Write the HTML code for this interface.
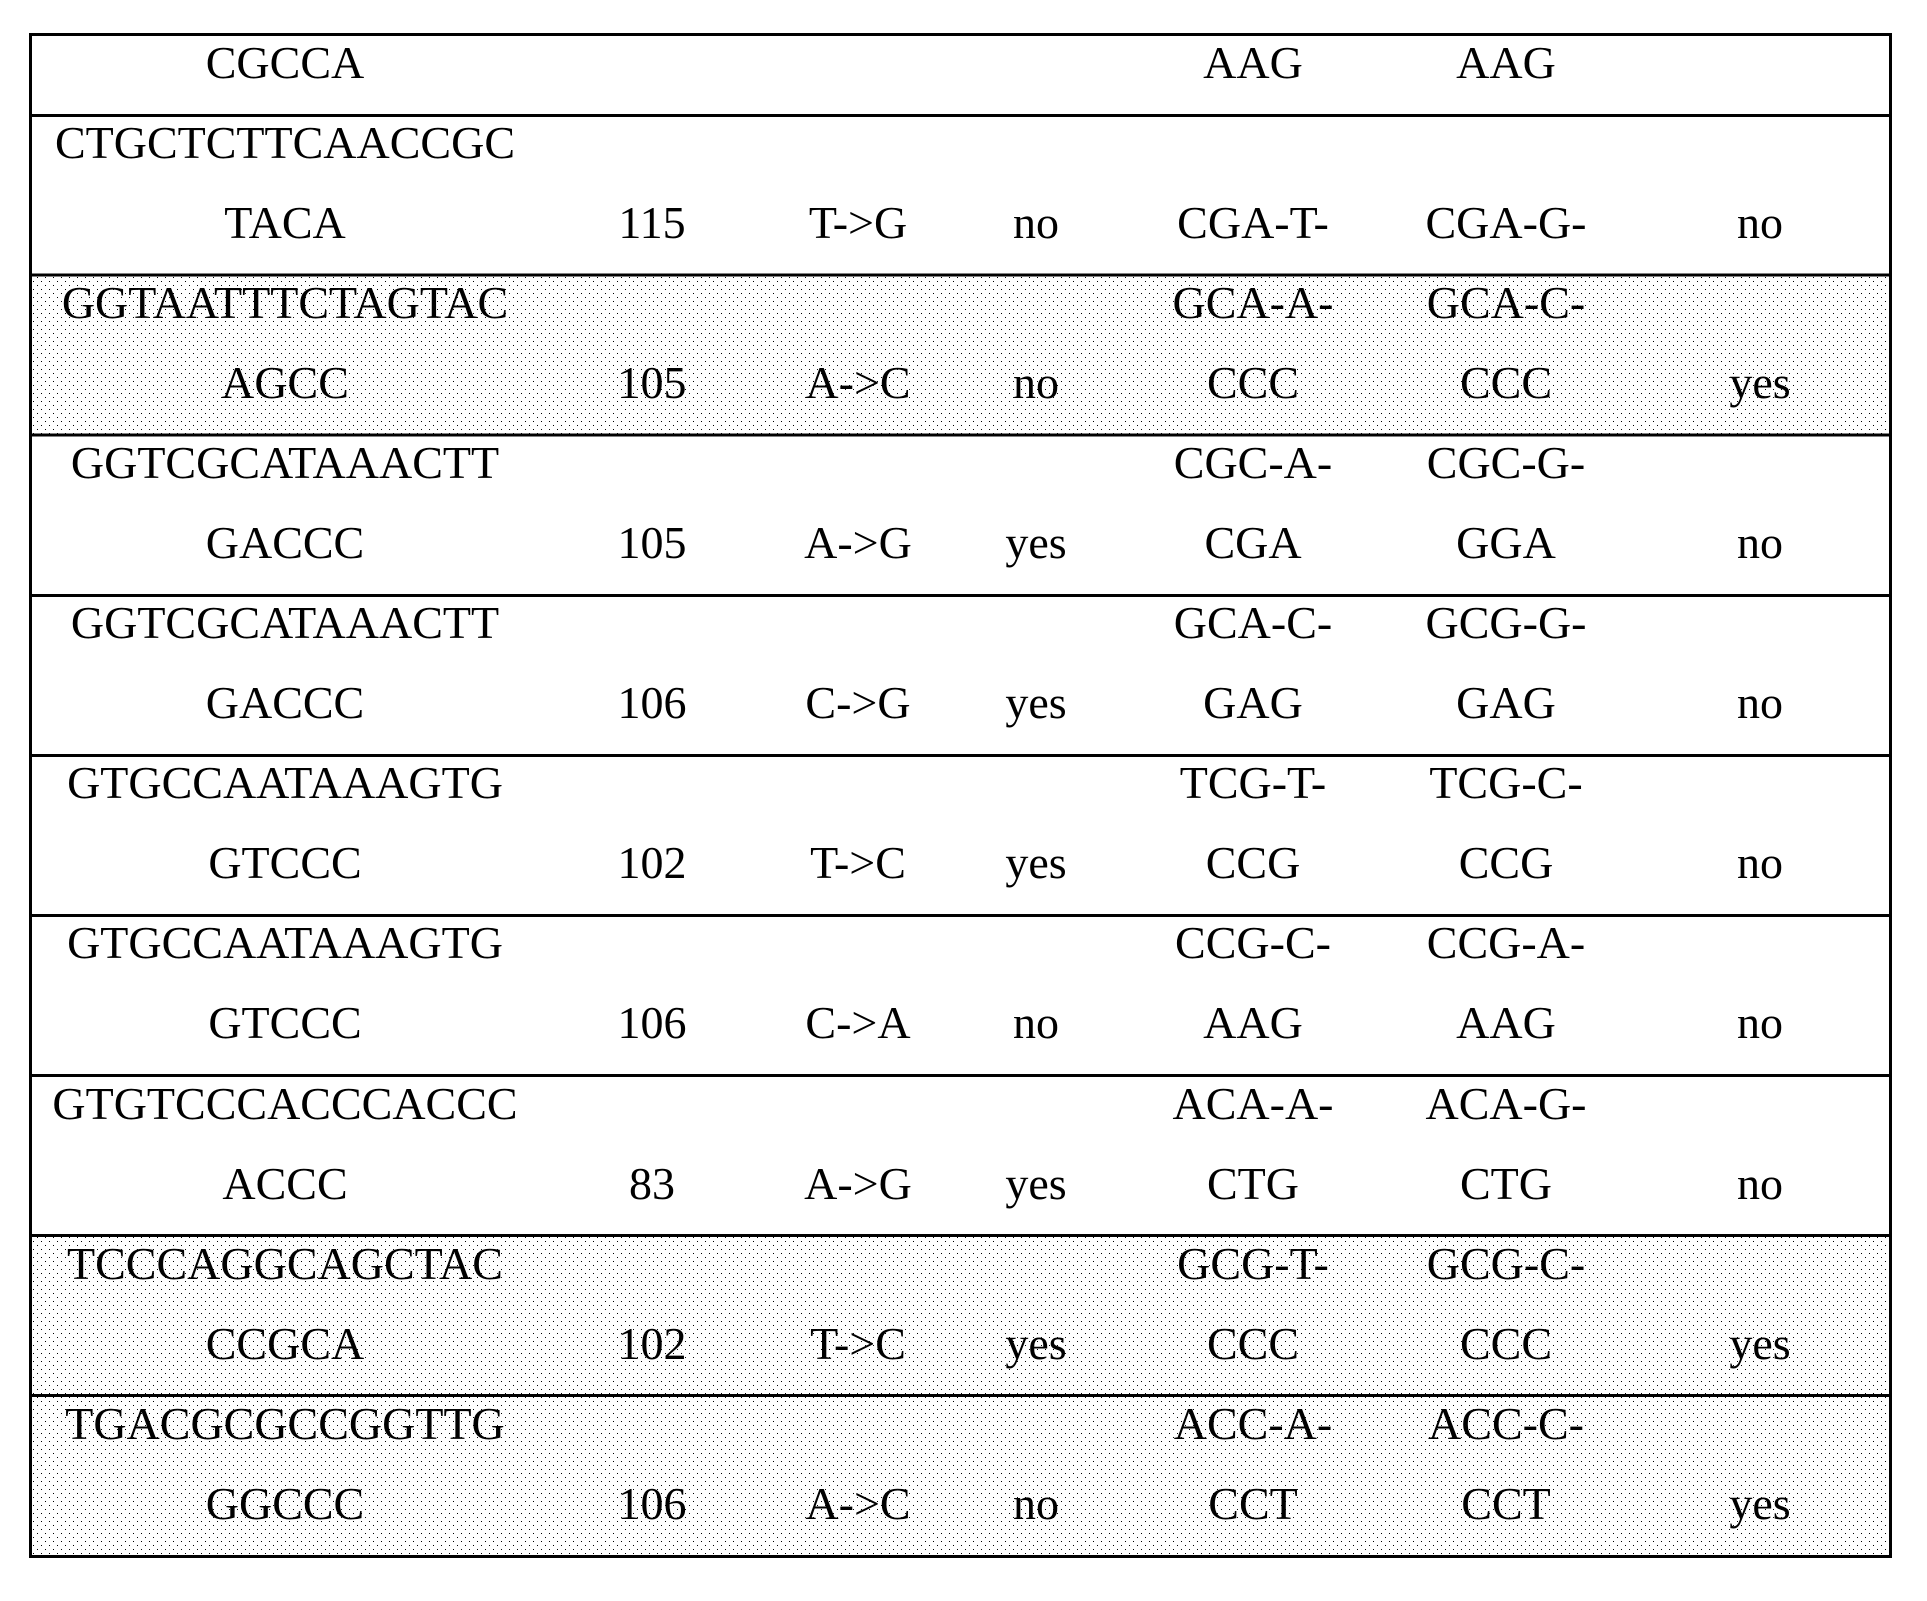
<!DOCTYPE html>
<html>
<head>
<meta charset="utf-8">
<style>
html,body{margin:0;padding:0;background:#fff;}
svg{display:block;}
text{font-family:"Liberation Serif","Times New Roman",serif;font-size:46px;fill:#000;}
</style>
</head>
<body>
<svg width="1927" height="1601" viewBox="0 0 1927 1601" xmlns="http://www.w3.org/2000/svg">
<defs>
<pattern id="dots" width="8" height="8" patternUnits="userSpaceOnUse">
<rect x="1" y="1" width="1" height="1" fill="#000"/>
<rect x="5" y="5" width="1" height="1" fill="#000"/>
</pattern>
</defs>
<rect width="1927" height="1601" fill="#fff"/>
<rect x="32" y="275" width="1858" height="160" fill="url(#dots)"/>
<rect x="32" y="1235" width="1858" height="160" fill="url(#dots)"/>
<rect x="32" y="1395" width="1858" height="161" fill="url(#dots)"/>
<rect x="30.5" y="34.5" width="1860" height="1522" fill="none" stroke="#000" stroke-width="3"/>
<g stroke="#000" stroke-width="3">
<line x1="29" x2="1892" y1="115.5" y2="115.5"/>
<line x1="29" x2="1892" y1="275" y2="275"/>
<line x1="29" x2="1892" y1="435" y2="435"/>
<line x1="29" x2="1892" y1="595.5" y2="595.5"/>
<line x1="29" x2="1892" y1="755.5" y2="755.5"/>
<line x1="29" x2="1892" y1="915.5" y2="915.5"/>
<line x1="29" x2="1892" y1="1075.5" y2="1075.5"/>
<line x1="29" x2="1892" y1="1235.5" y2="1235.5"/>
<line x1="29" x2="1892" y1="1395.5" y2="1395.5"/>
</g>
<g text-anchor="middle">
<text x="285" y="78">CGCCA</text>
<text x="1253" y="78">AAG</text>
<text x="1506" y="78">AAG</text>

<text x="285" y="158">CTGCTCTTCAACCGC</text>
<text x="285" y="238">TACA</text>
<text x="652" y="238">115</text>
<text x="858" y="238">T-&gt;G</text>
<text x="1036" y="238">no</text>
<text x="1253" y="238">CGA-T-</text>
<text x="1506" y="238">CGA-G-</text>
<text x="1760" y="238">no</text>

<text x="285" y="318">GGTAATTTCTAGTAC</text>
<text x="1253" y="318">GCA-A-</text>
<text x="1506" y="318">GCA-C-</text>
<text x="285" y="398">AGCC</text>
<text x="652" y="398">105</text>
<text x="858" y="398">A-&gt;C</text>
<text x="1036" y="398">no</text>
<text x="1253" y="398">CCC</text>
<text x="1506" y="398">CCC</text>
<text x="1760" y="398">yes</text>

<text x="285" y="478">GGTCGCATAAACTT</text>
<text x="1253" y="478">CGC-A-</text>
<text x="1506" y="478">CGC-G-</text>
<text x="285" y="558">GACCC</text>
<text x="652" y="558">105</text>
<text x="858" y="558">A-&gt;G</text>
<text x="1036" y="558">yes</text>
<text x="1253" y="558">CGA</text>
<text x="1506" y="558">GGA</text>
<text x="1760" y="558">no</text>

<text x="285" y="638">GGTCGCATAAACTT</text>
<text x="1253" y="638">GCA-C-</text>
<text x="1506" y="638">GCG-G-</text>
<text x="285" y="718">GACCC</text>
<text x="652" y="718">106</text>
<text x="858" y="718">C-&gt;G</text>
<text x="1036" y="718">yes</text>
<text x="1253" y="718">GAG</text>
<text x="1506" y="718">GAG</text>
<text x="1760" y="718">no</text>

<text x="285" y="798">GTGCCAATAAAGTG</text>
<text x="1253" y="798">TCG-T-</text>
<text x="1506" y="798">TCG-C-</text>
<text x="285" y="878">GTCCC</text>
<text x="652" y="878">102</text>
<text x="858" y="878">T-&gt;C</text>
<text x="1036" y="878">yes</text>
<text x="1253" y="878">CCG</text>
<text x="1506" y="878">CCG</text>
<text x="1760" y="878">no</text>

<text x="285" y="958">GTGCCAATAAAGTG</text>
<text x="1253" y="958">CCG-C-</text>
<text x="1506" y="958">CCG-A-</text>
<text x="285" y="1038">GTCCC</text>
<text x="652" y="1038">106</text>
<text x="858" y="1038">C-&gt;A</text>
<text x="1036" y="1038">no</text>
<text x="1253" y="1038">AAG</text>
<text x="1506" y="1038">AAG</text>
<text x="1760" y="1038">no</text>

<text x="285" y="1119">GTGTCCCACCCACCC</text>
<text x="1253" y="1119">ACA-A-</text>
<text x="1506" y="1119">ACA-G-</text>
<text x="285" y="1199">ACCC</text>
<text x="652" y="1199">83</text>
<text x="858" y="1199">A-&gt;G</text>
<text x="1036" y="1199">yes</text>
<text x="1253" y="1199">CTG</text>
<text x="1506" y="1199">CTG</text>
<text x="1760" y="1199">no</text>

<text x="285" y="1279">TCCCAGGCAGCTAC</text>
<text x="1253" y="1279">GCG-T-</text>
<text x="1506" y="1279">GCG-C-</text>
<text x="285" y="1359">CCGCA</text>
<text x="652" y="1359">102</text>
<text x="858" y="1359">T-&gt;C</text>
<text x="1036" y="1359">yes</text>
<text x="1253" y="1359">CCC</text>
<text x="1506" y="1359">CCC</text>
<text x="1760" y="1359">yes</text>

<text x="285" y="1439">TGACGCGCCGGTTG</text>
<text x="1253" y="1439">ACC-A-</text>
<text x="1506" y="1439">ACC-C-</text>
<text x="285" y="1519">GGCCC</text>
<text x="652" y="1519">106</text>
<text x="858" y="1519">A-&gt;C</text>
<text x="1036" y="1519">no</text>
<text x="1253" y="1519">CCT</text>
<text x="1506" y="1519">CCT</text>
<text x="1760" y="1519">yes</text>
</g>
</svg>
</body>
</html>
